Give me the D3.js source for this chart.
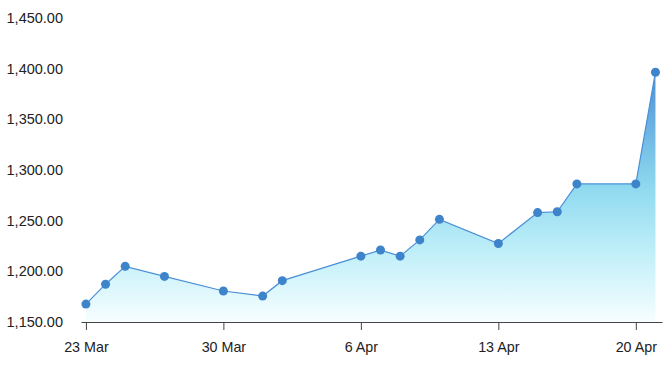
<!DOCTYPE html>
<html>
<head>
<meta charset="utf-8">
<script src="https://cdn.jsdelivr.net/npm/d3@7"></script>
<style>
  body { margin: 0; background: #fff; }
  text { font-family: "Liberation Sans", Arial, sans-serif; }
</style>
</head>
<body>
<div id="chart"></div>
<script>
var dates = ['2020-03-23', '2020-03-24', '2020-03-25', '2020-03-27', '2020-03-30',
    '2020-04-01', '2020-04-02', '2020-04-06', '2020-04-07', '2020-04-08', '2020-04-09',
    '2020-04-10', '2020-04-13', '2020-04-15', '2020-04-16', '2020-04-17', '2020-04-20',
    '2020-04-21'];
var values = [1167.7, 1187.3, 1204.9, 1195.0, 1180.6, 1175.6, 1190.8, 1215.0, 1221.0,
    1215.0, 1231.0, 1251.3, 1227.5, 1258.0, 1258.8, 1286.3, 1286.3, 1396.5];
var yTicks = [1150, 1200, 1250, 1300, 1350, 1400, 1450];
var xTicks = ['2020-03-23', '2020-03-30', '2020-04-06', '2020-04-13', '2020-04-20'];

function init() {
    'use strict';
    var parse = d3.timeParse('%Y-%m-%d');
    var data = dates.map(function (d, i) { return { date: parse(d), value: values[i] }; });

    var width = 668, height = 370;
    var svg = d3.select('#chart').append('svg')
        .attr('width', width)
        .attr('height', height);

    var first = data[0].date, last = data[data.length - 1].date;
    var x = d3.scaleTime()
        .domain([d3.timeHour.offset(first, -6), d3.timeHour.offset(last, 8)])
        .range([81, 662]);
    var y = d3.scaleLinear().domain([1150, 1450]).range([322, 18]);

    var grad = svg.append('defs').append('linearGradient')
        .attr('id', 'fill')
        .attr('gradientUnits', 'userSpaceOnUse')
        .attr('x1', 0).attr('x2', 0)
        .attr('y1', y(d3.max(values))).attr('y2', y(1150));
    grad.append('stop').attr('offset', '0%').attr('stop-color', '#4a8fd5');
    grad.append('stop').attr('offset', '45%').attr('stop-color', '#8dd8ef');
    grad.append('stop').attr('offset', '72%').attr('stop-color', '#c0eff9');
    grad.append('stop').attr('offset', '100%').attr('stop-color', '#f7feff');

    var area = d3.area()
        .x(function (d) { return x(d.date); })
        .y0(y(1150))
        .y1(function (d) { return y(d.value); });
    var line = d3.line()
        .x(function (d) { return x(d.date); })
        .y(function (d) { return y(d.value); });

    svg.append('path').datum(data)
        .attr('d', area)
        .attr('fill', 'url(#fill)');
    svg.append('path').datum(data)
        .attr('d', line)
        .attr('fill', 'none')
        .attr('stroke', '#4a8fd8')
        .attr('stroke-width', 1.2);

    var yAxis = svg.append('g')
        .attr('transform', 'translate(63,0)')
        .call(d3.axisLeft(y).tickValues(yTicks).tickSize(0).tickPadding(0)
            .tickFormat(d3.format(',.2f')));
    yAxis.select('.domain').remove();
    yAxis.selectAll('text').attr('font-size', 14.5).attr('fill', '#222')
        .attr('font-family', '"Liberation Sans", Arial, sans-serif');

    var xAxis = svg.append('g')
        .attr('transform', 'translate(0,322)')
        .call(d3.axisBottom(x).tickValues(xTicks.map(parse)).tickSize(8).tickSizeOuter(0)
            .tickPadding(12).tickFormat(d3.timeFormat('%-d %b')));
    xAxis.select('.domain').attr('stroke', '#444');
    xAxis.selectAll('.tick line').attr('stroke', '#444');
    xAxis.selectAll('text').attr('font-size', 14.3).attr('fill', '#222')
        .attr('font-family', '"Liberation Sans", Arial, sans-serif');

    svg.selectAll('circle.pt').data(data).enter().append('circle')
        .attr('class', 'pt')
        .attr('cx', function (d) { return x(d.date); })
        .attr('cy', function (d) { return y(d.value); })
        .attr('r', 4.5)
        .attr('fill', '#3d84cb');
}

window.onload = init;
</script>
</body>
</html>
